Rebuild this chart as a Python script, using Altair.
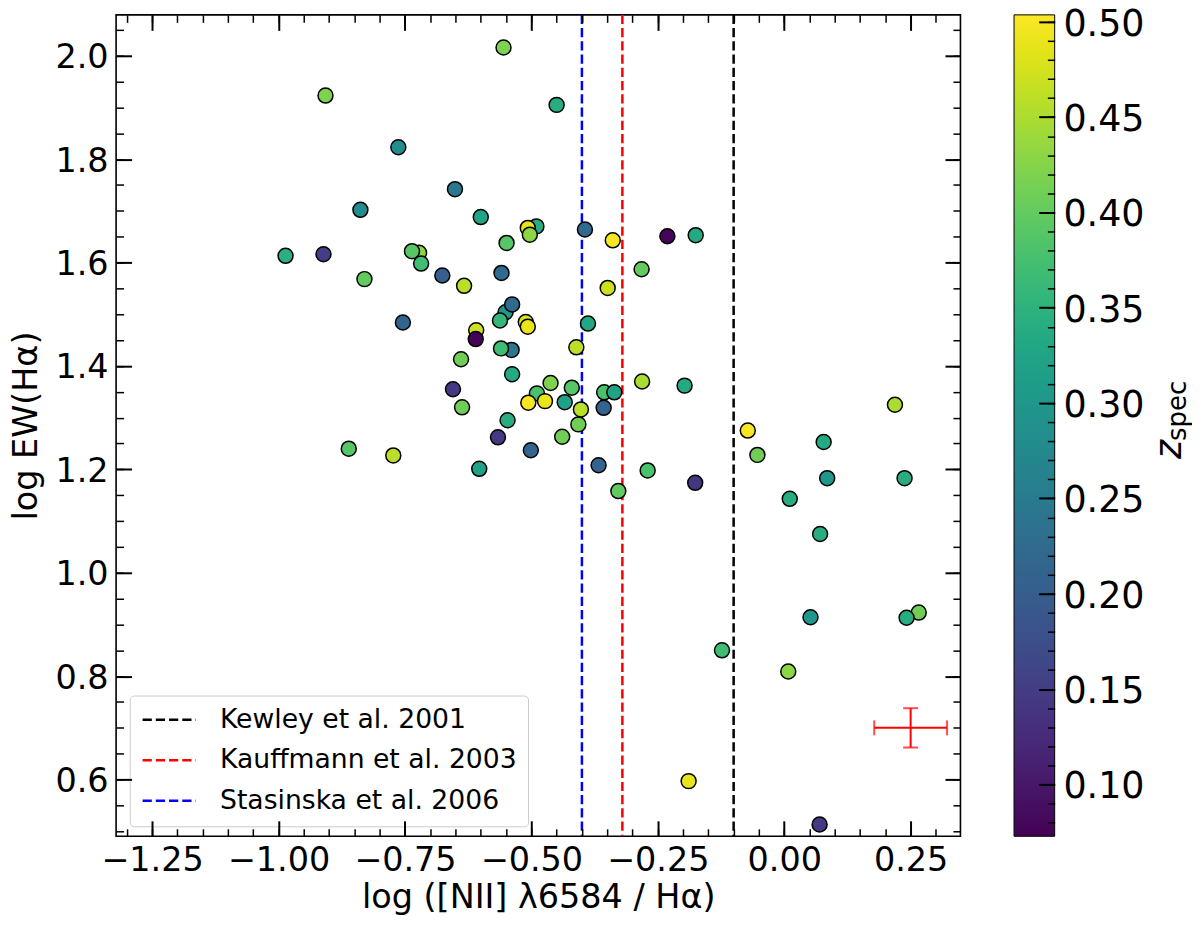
import altair as alt
import pandas as pd

# ---------------- data ----------------
nii = [-0.555, -0.907, -0.450, -0.763, -0.651, -0.838, -0.600, -0.490, -0.507, -0.503,
       -0.549, -0.986, -0.911, -0.722, -0.736, -0.718, -0.830, -0.676, -0.633, -0.559,
       -0.754, -0.551, -0.538, -0.562, -0.511, -0.507, -0.609, -0.610, -0.539, -0.560,
       -0.639, -0.538, -0.462, -0.489, -0.655, -0.473, -0.506, -0.637, -0.547,
       -0.394, -0.339, -0.231, -0.175, -0.282, -0.349, -0.388, -0.411, -0.420, -0.434,
       -0.402, -0.407, -0.281, -0.197, -0.356, -0.336, -0.357, -0.566, -0.439, -0.861,
       -0.773, -0.501, -0.603, -0.367, -0.270, -0.176, -0.328,
       0.219, -0.072, 0.078, -0.053, 0.085, 0.238, 0.011, 0.071, 0.052, 0.266,
       0.242, -0.123, 0.008, -0.189, 0.070]
ew = [2.016, 1.923, 1.905, 1.823, 1.742, 1.702, 1.688, 1.670, 1.667, 1.654,
      1.638, 1.613, 1.616, 1.619, 1.622, 1.598, 1.568, 1.575, 1.555, 1.580,
      1.484, 1.504, 1.519, 1.488, 1.485, 1.476, 1.469, 1.452, 1.431, 1.434,
      1.413, 1.384, 1.367, 1.347, 1.355, 1.332, 1.329, 1.320, 1.295,
      1.664, 1.643, 1.651, 1.653, 1.587, 1.551, 1.482, 1.436, 1.358, 1.330,
      1.316, 1.287, 1.370, 1.362, 1.349, 1.349, 1.319, 1.262, 1.263, 1.240,
      1.227, 1.237, 1.201, 1.208, 1.198, 1.174, 1.158,
      1.325, 1.275, 1.253, 1.228, 1.183, 1.183, 1.143, 1.075, 0.914, 0.923,
      0.913, 0.850, 0.809, 0.597, 0.513]
zspec = [0.42, 0.42, 0.34, 0.28, 0.245, 0.28, 0.325, 0.34, 0.49, 0.43,
         0.39, 0.345, 0.15, 0.43, 0.39, 0.37, 0.40, 0.20, 0.46, 0.22,
         0.21, 0.30, 0.22, 0.36, 0.48, 0.49, 0.47, 0.075, 0.245, 0.37,
         0.41, 0.335, 0.42, 0.38, 0.145, 0.49, 0.50, 0.41, 0.34,
         0.22, 0.50, 0.078, 0.335, 0.40, 0.47, 0.33, 0.46, 0.39, 0.32,
         0.46, 0.41, 0.45, 0.335, 0.38, 0.32, 0.21, 0.145, 0.41, 0.39,
         0.46, 0.21, 0.32, 0.21, 0.38, 0.14, 0.40,
         0.45, 0.50, 0.335, 0.41, 0.30, 0.34, 0.34, 0.34, 0.30, 0.41,
         0.34, 0.37, 0.43, 0.49, 0.145]

line_names = ["Kewley et al. 2001", "Kauffmann et al. 2003", "Stasinska et al. 2006"]
line_pos = [-0.10, -0.32, -0.40]
line_colors = ["#000000", "#ff0000", "#0000ff"]

err_x = [0.25]
err_y = [0.70]
err_dx = [0.072]
err_dy = [0.038]

x_major = [-1.25, -1.00, -0.75, -0.50, -0.25, 0.00, 0.25]
x_minor = [round(-1.30 + 0.05 * i, 2) for i in range(33)]
y_major = [0.6, 0.8, 1.0, 1.2, 1.4, 1.6, 1.8, 2.0]
y_minor = [round(0.50 + 0.05 * i, 2) for i in range(32)]
cb_major = [0.10, 0.15, 0.20, 0.25, 0.30, 0.35, 0.40, 0.45, 0.50]
cb_minor = [round(0.08 + 0.01 * i, 2) for i in range(43)]

X_DOM = [-1.3211, 0.3485]
Y_DOM = [0.4903, 2.0791]
Z_DOM = [0.0728, 0.5036]

viridis_stops = ["#440154", "#471365", "#482475", "#463480", "#414487", "#3b528b",
                 "#355f8d", "#306a8e", "#2a788e", "#25848e", "#21918c", "#1e9c89",
                 "#22a884", "#2fb47c", "#44bf70", "#5ec962", "#7ad151", "#9bd93c",
                 "#bddf26", "#dfe318", "#fde725"]

# ---------------- layout constants ----------------
W, H = 846, 823
FONT = "DejaVu Sans"
TICK_FS = 33.5
CB_FS = 36.5
MAJ, MIN = 15.5, 7.5

pts = pd.DataFrame({"nii": nii, "ew": ew, "z": zspec})
lines = pd.DataFrame({"name": line_names, "pos": line_pos})
err = pd.DataFrame({
    "x": err_x, "y": err_y,
    "xlo": [a - b for a, b in zip(err_x, err_dx)],
    "xhi": [a + b for a, b in zip(err_x, err_dx)],
    "ylo": [a - b for a, b in zip(err_y, err_dy)],
    "yhi": [a + b for a, b in zip(err_y, err_dy)],
})
cbar = pd.DataFrame({"lo": [Z_DOM[0]], "hi": [Z_DOM[1]]})

xs = alt.Scale(domain=X_DOM, nice=False, zero=False)
ys = alt.Scale(domain=Y_DOM, nice=False, zero=False)
zs = alt.Scale(domain=Z_DOM, nice=False, zero=False)
fs = alt.Scale(scheme="viridis", domain=Z_DOM)


def axis(orient, values, size, width, offset, labels=False, **kw):
    return alt.Axis(orient=orient, values=values, tickSize=size, tickWidth=width,
                    tickColor="black", offset=offset, domain=False, grid=False,
                    labels=labels, zindex=1, **kw)


ax_b = axis("bottom", x_major, MAJ, 2, -MAJ, labels=True, format=".2f",
            labelFontSize=TICK_FS, labelFont=FONT, labelColor="black", labelPadding=8,
            labelFlush=False, labelOverlap=False, labelBound=False,
            title="log ([NII] λ6584 / Hα)", titleFont=FONT, titleFontSize=TICK_FS,
            titleFontWeight="normal", titleColor="black", titleBaseline="alphabetic",
            titleAlign="center", titleX=W / 2, titleY=86.7)
ax_bm = axis("bottom", x_minor, MIN, 1.5, -MIN, title=None)
ax_t = axis("top", x_major, MAJ, 2, -MAJ, title=None)
ax_tm = axis("top", x_minor, MIN, 1.5, -MIN, title=None)

ax_l = axis("left", y_major, MAJ, 2, -MAJ, labels=True, format=".1f",
            labelFontSize=TICK_FS, labelFont=FONT, labelColor="black", labelPadding=8,
            labelOffset=2, labelFlush=False, labelOverlap=False, labelBound=False,
            title="log EW(Hα)", titleFont=FONT, titleFontSize=TICK_FS,
            titleFontWeight="normal", titleColor="black", titleBaseline="alphabetic",
            titleAlign="center", titleX=-94.9, titleY=H / 2)
ax_lm = axis("left", y_minor, MIN, 1.5, -MIN, title=None)
ax_r = axis("right", y_major, MAJ, 2, -MAJ, title=None)
ax_rm = axis("right", y_minor, MIN, 1.5, -MIN, title=None)

CB_X0, CB_X1 = 899.7, 940.4
cb_ax = axis("right", cb_major, 16, 2, CB_X1 - W - 16, labels=True, format=".2f",
             labelFontSize=CB_FS, labelFont=FONT, labelColor="black", labelPadding=8.3,
             labelOffset=2.5, labelFlush=False, labelOverlap=False, labelBound=False,
             title=None)
cb_axm = axis("right", cb_minor, 7.3, 1.5, CB_X1 - W - 7.3, title=None)


def carrier(ax_x, ax_y):
    return alt.Chart(pts).mark_point(opacity=0).encode(
        x=alt.X("nii:Q", scale=xs, axis=ax_x),
        y=alt.Y("ew:Q", scale=ys, axis=ax_y),
    )


carriers = [carrier(ax_b, ax_l), carrier(ax_bm, ax_lm),
            carrier(ax_t, ax_r), carrier(ax_tm, ax_rm)]

rules = alt.Chart(lines).mark_rule(strokeDash=[9.25, 4.0], strokeWidth=2.5).encode(
    x=alt.X("pos:Q", scale=xs, axis=None),
    stroke=alt.Stroke(
        "name:N",
        scale=alt.Scale(domain=line_names, range=line_colors),
        legend=alt.Legend(
            orient="none", legendX=13.7, legendY=682, title=None,
            symbolType="M-2.67,0L2.67,0", symbolSize=400, symbolStrokeWidth=2.5,
            symbolDash=[9.25, 4.0], symbolFillColor="transparent",
            symbolOffset=15.2, labelOffset=37.5,
            labelFont=FONT, labelFontSize=26.7, labelColor="black", labelLimit=600,
            padding=11, rowPadding=12.5, strokeColor="#cccccc",
            fillColor="rgba(255,255,255,0.8)", cornerRadius=4,
        ),
    ),
)

RED = "#ff0000"
err_h = alt.Chart(err).mark_rule(color=RED, strokeWidth=2).encode(
    x=alt.X("xlo:Q", scale=xs, axis=None), x2="xhi",
    y=alt.Y("y:Q", scale=ys, axis=None))
err_v = alt.Chart(err).mark_rule(color=RED, strokeWidth=2).encode(
    x=alt.X("x:Q", scale=xs, axis=None),
    y=alt.Y("ylo:Q", scale=ys, axis=None), y2="yhi")
cap_x = alt.Chart(err).transform_fold(["xlo", "xhi"], as_=["k", "cx"]).mark_tick(
    orient="vertical", color=RED, thickness=2, size=15).encode(
    x=alt.X("cx:Q", scale=xs, axis=None), y=alt.Y("y:Q", scale=ys, axis=None))
cap_y = alt.Chart(err).transform_fold(["ylo", "yhi"], as_=["k", "cy"]).mark_tick(
    orient="horizontal", color=RED, thickness=2, size=15).encode(
    x=alt.X("x:Q", scale=xs, axis=None), y=alt.Y("cy:Q", scale=ys, axis=None))

points = alt.Chart(pts).mark_circle(size=225, opacity=1, stroke="black",
                                    strokeWidth=1.5).encode(
    x=alt.X("nii:Q", scale=xs, axis=None),
    y=alt.Y("ew:Q", scale=ys, axis=None),
    fill=alt.Fill("z:Q", scale=fs, legend=None),
)

grad = alt.LinearGradient(
    gradient="linear",
    stops=[alt.GradientStop(color=c, offset=i / (len(viridis_stops) - 1))
           for i, c in enumerate(viridis_stops)],
    x1=0, x2=0, y1=1, y2=0,
)
cb_rect = alt.Chart(cbar).mark_rect(fill=grad, stroke="black", strokeWidth=1).encode(
    x=alt.value(CB_X0), x2=alt.value(CB_X1),
    y=alt.Y("lo:Q", scale=zs, axis=cb_ax), y2="hi",
)
cb_minor_c = alt.Chart(cbar).mark_point(opacity=0).encode(
    x=alt.value(0), y=alt.Y("lo:Q", scale=zs, axis=cb_axm))

z_txt = alt.Chart(pd.DataFrame({"t": ["z"]})).mark_text(
    angle=270, align="left", baseline="alphabetic", font=FONT, fontSize=CB_FS,
    fontStyle="italic", color="black").encode(
    text="t:N", x=alt.value(1067), y=alt.value(445))
spec_txt = alt.Chart(pd.DataFrame({"t": ["spec"]})).mark_text(
    angle=270, align="left", baseline="alphabetic", font=FONT, fontSize=26,
    color="black").encode(
    text="t:N", x=alt.value(1072), y=alt.value(427))

chart = alt.layer(
    *carriers, rules, err_h, err_v, cap_x, cap_y, points, cb_rect, cb_minor_c,
    z_txt, spec_txt,
).resolve_scale(y="independent").resolve_axis(x="independent", y="independent").properties(
    width=W, height=H,
    autosize=alt.AutoSizeParams(type="none"),
    padding={"left": 108.3, "top": 6, "right": 232, "bottom": 85},
).configure(font=FONT).configure_view(stroke="black", strokeWidth=1.6)

chart.save("out.html", embed_options={"renderer": "svg", "actions": False})
